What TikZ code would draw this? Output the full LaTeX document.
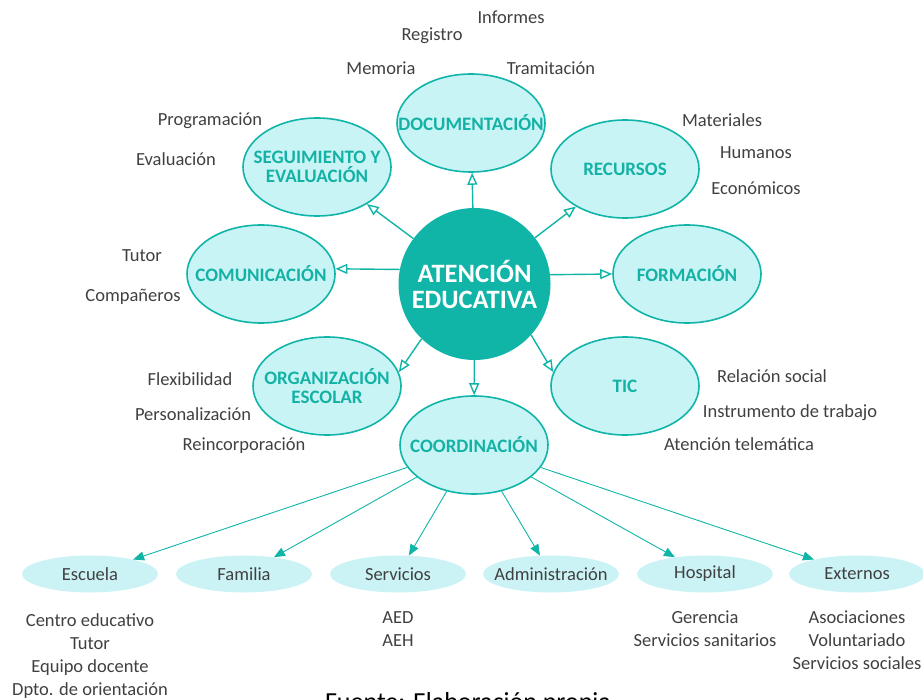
\documentclass[tikz,border=0pt]{standalone}
\usepackage{fontspec}
\setmainfont{Carlito}
\usetikzlibrary{shapes.geometric, arrows.meta}
\definecolor{tealc}{RGB}{17,181,168}
\definecolor{tealtext}{RGB}{20,178,165}
\definecolor{lightc}{RGB}{201,244,246}
\definecolor{lightb}{RGB}{203,243,246}
\definecolor{textc}{RGB}{64,64,64}
\tikzstyle{hub} = [circle, fill=tealc, text=white, minimum size=152pt,
                 inner sep=0pt, align=center,
                 font=\bfseries\fontsize{26.5}{26}\selectfont]
\tikzstyle{topic} = [ellipse, draw=tealc, line width=1.6pt, fill=lightc,
                 minimum width=148pt, minimum height=98pt, inner sep=0pt]
\tikzstyle{topictext} = [text=tealtext, align=center, inner sep=0pt,
                 font=\bfseries\fontsize{19}{18.5}\selectfont]
\tikzstyle{actor} = [ellipse, fill=lightb, minimum width=136pt,
                 minimum height=37pt, inner sep=0pt]
\tikzstyle{actortext} = [text=textc, inner sep=0pt,
                 font=\fontsize{18.5}{22}\selectfont]
\tikzstyle{item} = [text=textc, anchor=base, inner sep=0pt, align=center,
                 font=\fontsize{18.5}{23}\selectfont]
\tikzstyle{branch} = [draw=tealc, line width=1.4pt,
                 -{Triangle[open, length=12pt, width=10pt]}]
\tikzstyle{link} = [draw=tealc, line width=0.9pt,
                 -{Triangle[length=11pt, width=9pt]}]

\begin{document}
\begin{tikzpicture}[x=1pt, y=-1pt]
\useasboundingbox (0,0) rectangle (923,700);

\node [hub] at (474.5,284) (ae) {ATENCIÓN\\EDUCATIVA};

\node [topic, label={[topictext]center:DOCUMENTACIÓN}] at (471,123) (doc) {};
\node [topic, label={[topictext]center:SEGUIMIENTO Y\\EVALUACIÓN}] at (317,167) (seg) {};
\node [topic, label={[topictext]center:RECURSOS}] at (625,169) (rec) {};
\node [topic, label={[topictext]center:COMUNICACIÓN}] at (261,274) (com) {};
\node [topic, label={[topictext]center:FORMACIÓN}] at (687,274) (form) {};
\node [topic, label={[topictext]center:ORGANIZACIÓN\\ESCOLAR}] at (327,386) (org) {};
\node [topic, label={[topictext]center:TIC}] at (625,386) (tic) {};
\node [topic, label={[topictext]center:COORDINACIÓN}] at (474,445) (coord) {};

\foreach \x/\name/\txt in {90/esc/Escuela, 244/fam/Familia, 398/ser/Servicios,
    551/adm/Administración, 705/hos/Hospital, 857/ext/Externos}
	\node [actor, label={[actortext]center:\txt}] at (\x,574) (\name) {};

	%documentacion
\node [item] at (511,24) (informes) {Informes};
\node [item] at (432,41) (registro) {Registro};
\node [item] at (381,75) (memoria) {Memoria};
\node [item] at (551,75) (tramitacion) {Tramitación};
	%seguimiento
\node [item] at (210,126) (programacion) {Programación};
\node [item] at (176,166) (evaluacion) {Evaluación};
	%recursos
\node [item] at (722,127) (materiales) {Materiales};
\node [item] at (756,159) (humanos) {Humanos};
\node [item] at (756,195) (economicos) {Económicos};
	%comunicacion
\node [item] at (142,262) (tutor) {Tutor};
\node [item] at (133,302) (companeros) {Compañeros};
	%organizacion
\node [item] at (190,385) (flexibilidad) {Flexibilidad};
\node [item] at (193,420) (personalizacion) {Personalización};
\node [item] at (244,450) (reincorporacion) {Reincorporación};
	%tic
\node [item] at (772,382) (relacion) {Relación social};
\node [item] at (790,417) (instrumento) {Instrumento de trabajo};
\node [item] at (739,450) (telematica) {Atención telemática};
	%coordinacion (base = last line)
\node [item] at (90,695) (escuelas) {Centro educativo\\Tutor\\Equipo docente\\Dpto. de orientación};
\node [item] at (398,646) (servicioss) {AED\\AEH};
\node [item] at (705,646) (hospitals) {Gerencia\\Servicios sanitarios};
\node [item] at (857,669) (externoss) {Asociaciones\\Voluntariado\\Servicios sociales};

\node [anchor=base, inner sep=0pt, font=\fontsize{26}{28}\selectfont] at (468,710) (fuente) {Fuente: Elaboración propia};

\path [branch] (ae) -- (doc);
\path [branch] (ae) -- (seg);
\path [branch] (ae) -- (rec);
\path [branch] (ae.169) -- (com.4);
\path [branch] (ae.7) -- (form.west);
\path [branch] (ae.-134) -- (org.11);
\path [branch] (ae.-42) -- (tic.169);
\path [branch] (ae) -- (coord);
\foreach \name in {esc, fam, ser, adm, hos, ext}
	\path [link] (coord) -- (\name);

\end{tikzpicture}
\end{document}
